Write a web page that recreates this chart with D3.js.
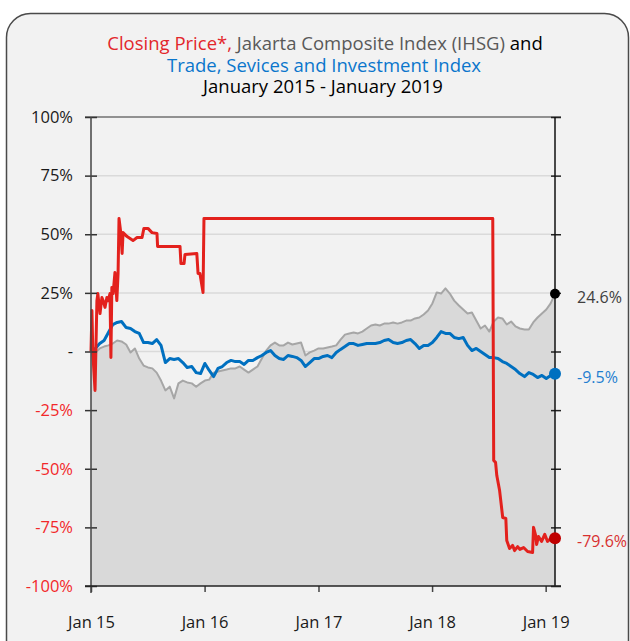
<!DOCTYPE html>
<html>
<head>
<meta charset="utf-8">
<script src="https://cdn.jsdelivr.net/npm/d3@7"></script>
<style>
  body { margin: 0; background: #fff; }
  text { font-family: "Open Sans", "Noto Sans", sans-serif; }
</style>
</head>
<body>
<div id="plot"></div>
<script>
// chart data, % change since January 2015
const startDate = "2015-01-01";
const endDate = "2019-01-31";

// Jakarta Composite Index (IHSG), sampled about every two weeks
const ihsg = [0,-0.4,1.3,2.1,2.6,3.4,4.7,4.3,3.0,-0.4,
  1.3,-3.0,-6.0,-6.8,-7.2,-9.0,-12.4,-16.6,-15,-20,
  -13.6,-12.4,-13.2,-13.6,-15,-13.6,-12.4,-12,-9,-8.5,
  -8.1,-7.7,-7.2,-7.2,-6.4,-7.7,-9,-7.7,-6.4,-3,
  0.4,2.6,3.8,2.6,2.6,3.8,3.0,3.4,3.8,-1.7,
  -0.4,0.4,1.3,1.3,1.7,2.1,2.6,5.1,7.2,7.7,
  8.1,7.7,8.5,9.8,11.1,11.5,11.1,11.9,11.9,12.4,
  11.9,12.4,13.2,13.2,14.1,14.5,15.8,17.5,20.5,25.2,
  24.7,26.9,24.7,21.7,19.6,17.9,16.2,16.6,13.2,9.8,
  11.1,8.5,12.8,14.5,14.1,11.5,12.8,10.7,9.8,9.4,
  9.4,12.4,14.5,16.2,17.9,20.5,24.6];

// Trade, Services and Investment Index, same sampling
const tradeIdx = [0,1.3,3.4,4.7,8.1,11.5,12.4,12.8,10.2,9.8,
  8.5,7.7,3.8,3.8,3.4,5.1,2.6,-4.7,-3.0,-3.4,
  -3.0,-4.7,-6.8,-6.4,-9.0,-9.4,-5.1,-8.1,-10.7,-7.2,
  -6.4,-4.7,-3.8,-4.3,-4.3,-5.5,-3.8,-3.8,-2.6,-1.7,
  -0.4,0.4,-1.7,-3.0,-3.4,-1.7,-2.1,-2.6,-3.8,-6.4,
  -4.7,-3.0,-3.0,-2.1,-1.7,-2.6,-0.4,0.9,2.1,3.4,
  3.4,2.6,3.0,3.4,3.4,3.4,3.8,4.7,5.1,3.8,
  3.4,3.8,4.7,5.1,3.4,1.3,2.6,2.6,3.8,6.0,
  8.5,7.7,7.7,6.0,5.5,6.0,2.6,0.4,1.3,0,
  -1.3,-2.6,-2.6,-3.0,-4.3,-5.1,-6.4,-7.7,-9.4,-10.7,
  -9.0,-9.8,-11.1,-10.2,-11.5,-10.2,-9.5];

// closing price of the stock
const priceDates = ["2015-01-01","2015-01-04","2015-01-07","2015-01-14","2015-01-20","2015-01-23",
  "2015-01-30","2015-02-05","2015-02-09","2015-02-15","2015-02-21","2015-02-25","2015-03-03",
  "2015-03-06","2015-03-09","2015-03-13","2015-03-19","2015-03-25","2015-03-29","2015-04-01",
  "2015-04-07","2015-04-11","2015-04-14","2015-04-27","2015-05-16","2015-05-29","2015-06-14",
  "2015-06-20","2015-07-03","2015-07-16","2015-08-01","2015-08-03","2015-10-14","2015-10-17",
  "2015-10-27","2015-10-30","2015-12-07","2015-12-11","2015-12-17","2015-12-27","2015-12-30",
  "2018-07-15","2018-07-18","2018-07-24","2018-07-28","2018-08-06","2018-08-16","2018-08-26",
  "2018-08-29","2018-09-07","2018-09-17","2018-09-23","2018-10-03","2018-10-10","2018-10-22",
  "2018-11-04","2018-11-20","2018-11-23","2018-11-30","2018-12-03","2018-12-09","2018-12-19",
  "2018-12-29","2019-01-07","2019-01-20","2019-01-31"];
const priceValues = [0,17.5,-0.9,-16.6,21.7,24.7,
  16.2,23,21.7,18.8,23,21.7,24.7,
  -2.6,27.3,24.7,33.7,21.7,33.3,56.7,
  50.3,41.8,50.7,49,47.3,48.6,48.6,
  52.5,52.5,50.7,50.3,44.8,44.8,37.5,
  37.5,41.4,41.8,33.3,33.3,25.2,56.7,
  56.7,-46.5,-47.3,-52.9,-59.3,-70.8,-71.2,
  -80.6,-84,-82.7,-84.9,-83.2,-84.4,-83.6,
  -85.3,-85.7,-75,-78.5,-82.3,-78.9,-81,
  -78,-81,-79.3,-79.6];

const yTicks = [-100,-75,-50,-25,0,25,50,75,100];
const xTickYears = ["2015","2016","2017","2018","2019"];
const endLabels = ["24.6%","-9.5%","-79.6%"];

const w = 630, h = 641;
const parse = d3.utcParse("%Y-%m-%d");
const t0 = parse(startDate), t1 = parse(endDate);

// sampling grid for the two index series
const span = d3.utcDay.count(t0, t1);
const sampleDates = d3.range(ihsg.length).map(i =>
  d3.utcDay.offset(t0, Math.round(i * span / (ihsg.length - 1))));

const svg = d3.select("#plot").append("svg")
  .attr("width", w).attr("height", h);

// frame
svg.append("rect")
  .attr("x", 6.5).attr("y", 13.5)
  .attr("width", 622).attr("height", 660)
  .attr("rx", 24)
  .attr("fill", "#f2f2f2")
  .attr("stroke", "#4a4a4a")
  .attr("stroke-width", 1.5);

// title
const title = svg.append("text")
  .attr("text-anchor", "middle")
  .style("font-size", "18.5px");
const l1 = title.append("tspan").attr("x", 325).attr("y", 50);
l1.append("tspan").attr("fill", "#e3262b").text("Closing Price*, ");
l1.append("tspan").attr("fill", "#595959").text("Jakarta Composite Index (IHSG) ");
l1.append("tspan").attr("fill", "#000").text("and");
title.append("tspan").attr("x", 324).attr("y", 72)
  .attr("fill", "#0a76cc").text("Trade, Sevices and Investment Index");
title.append("tspan").attr("x", 323).attr("y", 93)
  .attr("fill", "#000").text("January 2015 - January 2019");

const x = d3.scaleUtc().domain([t0, t1]).range([91, 555]);
const y = d3.scaleLinear().domain([-100, 100]).range([586, 117]);

// grid
svg.append("g").selectAll("line")
  .data(yTicks.filter(d => d > -100 && d < 100))
  .join("line")
  .attr("x1", 91).attr("x2", 555)
  .attr("y1", d => y(d)).attr("y2", d => y(d))
  .attr("stroke", "#dadada").attr("stroke-width", 1.5);

// IHSG area + line
const ihsgData = ihsg.map((v, i) => ({date: sampleDates[i], v}));
svg.append("path").datum(ihsgData)
  .attr("fill", "#d9d9d9")
  .attr("d", d3.area().x(d => x(d.date)).y0(y(-100)).y1(d => y(d.v)));
svg.append("path").datum(ihsgData)
  .attr("fill", "none").attr("stroke", "#a6a6a6").attr("stroke-width", 2)
  .attr("stroke-linejoin", "round")
  .attr("d", d3.line().x(d => x(d.date)).y(d => y(d.v)));

// trade index
const tradeData = tradeIdx.map((v, i) => ({date: sampleDates[i], v}));
svg.append("path").datum(tradeData)
  .attr("fill", "none").attr("stroke", "#0070c0").attr("stroke-width", 3)
  .attr("stroke-linejoin", "round")
  .attr("d", d3.line().x(d => x(d.date)).y(d => y(d.v)));

// closing price
const priceData = priceValues.map((v, i) => ({date: parse(priceDates[i]), v}));
svg.append("path").datum(priceData)
  .attr("fill", "none").attr("stroke", "#e3211d").attr("stroke-width", 3)
  .attr("stroke-linejoin", "round")
  .attr("d", d3.line().x(d => x(d.date)).y(d => y(d.v)));

// top border
svg.append("line")
  .attr("x1", 85).attr("x2", 561).attr("y1", 117).attr("y2", 117)
  .attr("stroke", "#707070").attr("stroke-width", 1.5);

// left axis
const yAxis = svg.append("g")
  .attr("transform", "translate(97,0)")
  .call(d3.axisLeft(y).tickValues(yTicks).tickSize(12).tickPadding(12)
    .tickFormat(d => d === 0 ? "-" : d + "%"));
yAxis.select(".domain").remove();
yAxis.selectAll("line").attr("stroke", "#333").attr("stroke-width", 1.5);
yAxis.selectAll("text")
  .style("font-size", "16.5px")
  .attr("fill", d => d < 0 ? "#f2282a" : "#1a1a1a");
svg.append("line")
  .attr("x1", 91).attr("x2", 91).attr("y1", 117).attr("y2", 593)
  .attr("stroke", "#444").attr("stroke-width", 1.5);

// right axis
const rAxis = svg.append("g")
  .attr("transform", "translate(551,0)")
  .call(d3.axisRight(y).tickValues(yTicks).tickSize(10).tickFormat(""));
rAxis.select(".domain").remove();
rAxis.selectAll("line").attr("stroke", "#222").attr("stroke-width", 1.5);
svg.append("line")
  .attr("x1", 555).attr("x2", 555).attr("y1", 117).attr("y2", 586)
  .attr("stroke", "#111").attr("stroke-width", 1.5);

// bottom axis
const xAxis = svg.append("g")
  .attr("transform", "translate(0,586)")
  .call(d3.axisBottom(x)
    .tickValues(xTickYears.map(yr => parse(yr + "-01-01")))
    .tickSize(6).tickPadding(24)
    .tickFormat(d3.utcFormat("Jan %y")));
xAxis.select(".domain").remove();
xAxis.selectAll("line").attr("stroke", "#444").attr("stroke-width", 1.5);
xAxis.selectAll("text").style("font-size", "16.5px").attr("fill", "#1a1a1a");
svg.append("line")
  .attr("x1", 85).attr("x2", 561).attr("y1", 586).attr("y2", 586)
  .attr("stroke", "#222").attr("stroke-width", 1.5);

// end points and labels
const ends = [
  {v: ihsg[ihsg.length - 1], dot: "#000", label: "#404040", r: 5},
  {v: tradeIdx[tradeIdx.length - 1], dot: "#0070c0", label: "#1f7fd0", r: 6},
  {v: priceValues[priceValues.length - 1], dot: "#c00000", label: "#d83030", r: 6}
];
svg.append("g").selectAll("circle")
  .data(ends).join("circle")
  .attr("cx", x(t1)).attr("cy", d => y(d.v))
  .attr("r", d => d.r).attr("fill", d => d.dot);
svg.append("g").selectAll("text")
  .data(ends).join("text")
  .attr("x", 577).attr("y", d => y(d.v) + 4)
  .attr("dy", "0.32em")
  .style("font-size", "16px")
  .attr("fill", d => d.label)
  .text((d, i) => endLabels[i]);
</script>
</body>
</html>
